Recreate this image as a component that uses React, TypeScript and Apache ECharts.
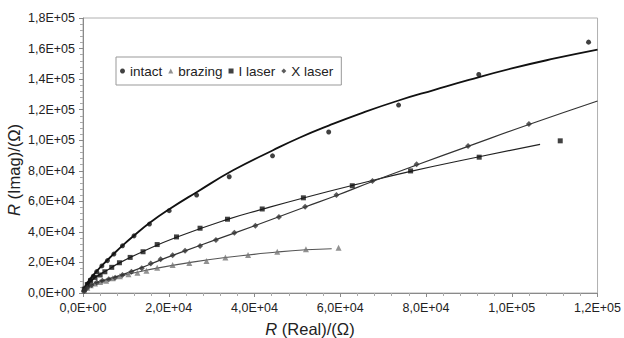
import React, { useEffect, useRef } from "react";
import * as echarts from "echarts";

const xTicks = [0, 20000, 40000, 60000, 80000, 100000, 120000];
const yTicks = [0, 20000, 40000, 60000, 80000, 100000, 120000, 140000, 160000, 180000];
const legendNames = ["intact", "brazing", "I laser", "X laser"];

const intactPoints = [
  [200, 1200], [600, 3500], [1100, 6000], [1700, 8500], [2400, 11000], [3200, 14000],
  [4400, 17700], [5700, 21200], [7200, 25500], [9200, 30900], [11900, 37400], [15500, 45100],
  [20100, 53900], [26500, 64100], [34100, 76100], [44200, 89800], [57300, 105400],
  [73600, 123000], [92300, 143000], [117900, 164200],
];
const intactFit = [
  [0, 0], [1000, 6500], [2500, 12000], [4400, 17900], [7200, 25700], [9200, 31000],
  [12000, 37800], [15500, 45800], [20100, 54800], [26500, 66000], [35000, 80300],
  [44200, 93300], [50600, 101800], [57300, 109600], [65000, 117800], [73600, 126000],
  [82000, 133000], [90000, 139500], [100000, 147000], [110000, 153500], [120000, 159300],
];

const brazingPoints = [
  [300, 1500], [1000, 3500], [1800, 5000], [2800, 6200], [4000, 7200], [5400, 8100],
  [6900, 9600], [8600, 10900], [10600, 12200], [12700, 13300], [14800, 14600], [17300, 16500],
  [20900, 18300], [24800, 19600], [28800, 21000], [33200, 23200], [38500, 24900],
  [45300, 27000], [52000, 28700], [59600, 29700],
];
const brazingFit = [
  [0, 0], [1000, 3600], [2800, 6300], [5400, 8400], [8600, 11000], [12700, 13600],
  [17300, 16300], [24800, 19900], [33200, 23200], [45300, 26800], [52000, 28300], [58000, 29000],
];

const iLaserPoints = [
  [300, 2500], [1000, 5500], [1800, 8000], [2800, 10200], [4000, 11800], [5100, 13900],
  [6700, 16800], [8500, 19800], [11000, 23300], [14000, 27000], [17300, 31700], [21800, 36700],
  [27300, 42400], [33700, 48300], [41800, 55000], [51400, 62300], [62800, 70200],
  [76400, 79900], [92400, 88900], [111300, 99600],
];
const iLaserFit = [
  [0, 0], [1000, 5300], [2800, 10000], [5100, 14000], [8500, 19700], [14000, 27200],
  [21800, 36500], [33700, 48200], [41800, 54800], [51400, 62200], [62800, 70400],
  [76400, 79600], [92400, 89200], [106600, 97300],
];

const xLaserPoints = [
  [300, 1500], [1000, 3500], [2000, 5300], [3200, 6800], [4500, 8000], [6000, 9000],
  [7500, 10000], [9200, 11800], [11300, 13900], [13700, 16200], [15800, 19300], [18100, 22100],
  [20900, 24700], [23800, 27700], [27300, 30800], [31000, 34700], [35300, 39500],
  [40200, 44000], [45700, 49700], [51800, 56500], [59100, 64100], [67500, 73300],
  [77800, 84200], [89800, 96200], [104000, 110600],
];
const xLaserFit = [
  [0, 0], [1000, 3400], [3200, 6900], [6000, 9300], [9200, 12000], [13700, 16600],
  [18100, 21700], [23800, 27600], [31000, 34900], [40200, 44200], [51800, 56300],
  [59100, 63800], [67500, 73000], [77800, 83800], [89800, 96000], [104000, 110300], [120000, 125700],
];

const FONT = "'Liberation Sans', Arial, sans-serif";

function sci(v: number): string {
  if (v === 0) return "0,0E+00";
  const e = Math.floor(Math.log10(Math.abs(v)) + 1e-9);
  const m = v / Math.pow(10, e);
  return m.toFixed(1).replace(".", ",") + "E" + (e < 0 ? "-" : "+") + String(Math.abs(e)).padStart(2, "0");
}

export default function App() {
  const ref = useRef<HTMLDivElement>(null);
  useEffect(() => {
    if (!ref.current) return;
    const chart = echarts.init(ref.current, null, { renderer: "svg" });
    const axisCommon = {
      type: "value",
      axisLine: { show: true, lineStyle: { color: "#8a8a8a", width: 1 } },
      axisTick: { show: true, length: 4, lineStyle: { color: "#8a8a8a" } },
      minorTick: { show: true, splitNumber: 5, length: 3, lineStyle: { color: "#aaa" } },
      splitLine: { show: false },
      axisLabel: { fontFamily: FONT, fontSize: 12.5, color: "#222", formatter: (v: number) => sci(v) },
    };
    const fitLine = (name: string, data: number[][], color: string, width: number) => ({
      name,
      type: "line",
      data,
      smooth: true,
      showSymbol: false,
      symbol: "none",
      lineStyle: { color, width },
      z: 2,
      silent: true,
    });
    const pts = (name: string, data: number[][], symbol: string, size: number, color: string) => ({
      name,
      type: "scatter",
      data,
      symbol,
      symbolSize: size,
      itemStyle: { color },
      z: 3,
    });
    chart.setOption({
      animation: false,
      backgroundColor: "#fff",
      grid: { left: 83, top: 18, right: 26, bottom: 45, show: true, borderColor: "#b0b0b0", borderWidth: 1 },
      xAxis: {
        ...axisCommon,
        min: xTicks[0],
        max: xTicks[xTicks.length - 1],
        interval: xTicks[1] - xTicks[0],
        axisLabel: { ...axisCommon.axisLabel, margin: 8 },
      },
      yAxis: {
        ...axisCommon,
        min: yTicks[0],
        max: yTicks[yTicks.length - 1],
        interval: yTicks[1] - yTicks[0],
        axisLabel: { ...axisCommon.axisLabel, margin: 8 },
      },
      legend: {
        data: [
          { name: legendNames[0], icon: "circle" },
          { name: legendNames[1], icon: "triangle" },
          { name: legendNames[2], icon: "rect" },
          { name: legendNames[3], icon: "diamond" },
        ],
        left: 116,
        top: 57,
        orient: "horizontal",
        itemWidth: 5,
        itemHeight: 5,
        itemGap: 6,
        padding: [7, 8, 7, 4],
        borderColor: "#999",
        borderWidth: 1,
        backgroundColor: "#fff",
        textStyle: { fontFamily: FONT, fontSize: 13.5, color: "#222" },
      },
      graphic: [
        {
          type: "text",
          x: 310,
          y: 329,
          style: {
            text: "{i|R} (Real)/(Ω)",
            fontFamily: FONT,
            fontSize: 16.5,
            fill: "#222",
            align: "center",
            verticalAlign: "middle",
            rich: { i: { fontStyle: "italic", fontFamily: FONT, fontSize: 16.5, fill: "#222" } },
          },
        },
        {
          type: "text",
          x: 14,
          y: 170,
          rotation: Math.PI / 2,
          style: {
            text: "{i|R} (Imag)/(Ω)",
            fontFamily: FONT,
            fontSize: 16.5,
            fill: "#222",
            align: "center",
            verticalAlign: "middle",
            rich: { i: { fontStyle: "italic", fontFamily: FONT, fontSize: 16.5, fill: "#222" } },
          },
        },
      ],
      series: [
        fitLine("intact fit", intactFit, "#111", 1.8),
        fitLine("brazing fit", brazingFit, "#555", 1.1),
        fitLine("I laser fit", iLaserFit, "#222", 1.2),
        fitLine("X laser fit", xLaserFit, "#333", 1.2),
        pts(legendNames[0], intactPoints, "circle", 5, "#111"),
        pts(legendNames[1], brazingPoints, "triangle", 6, "#777"),
        pts(legendNames[2], iLaserPoints, "rect", 5, "#111"),
        pts(legendNames[3], xLaserPoints, "diamond", 6, "#333"),
      ],
    });
    return () => chart.dispose();
  }, []);
  return <div ref={ref} style={{ position: "fixed", left: 0, top: 0, width: 624, height: 338 }} />;
}
